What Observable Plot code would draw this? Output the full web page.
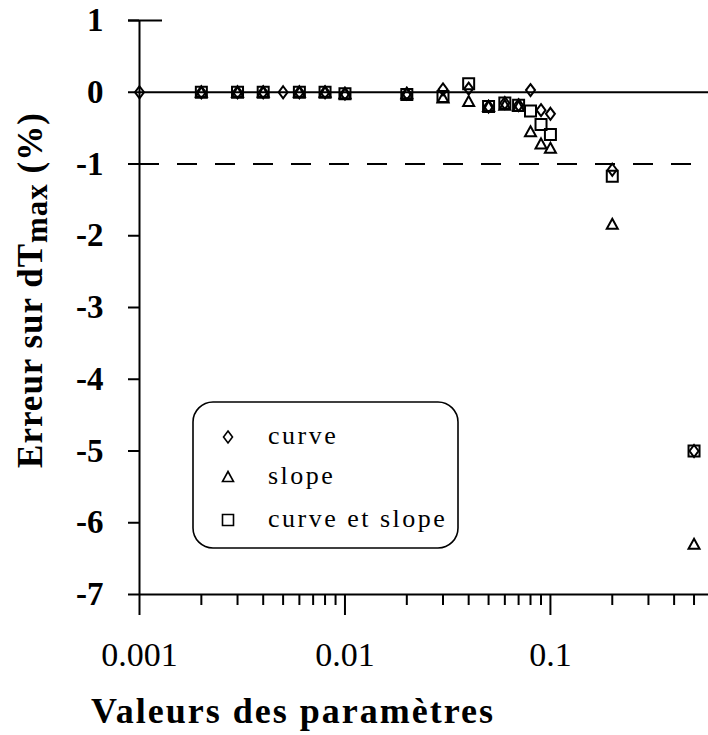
<!DOCTYPE html>
<html>
<head>
<meta charset="utf-8">
<script src="https://cdn.jsdelivr.net/npm/d3@7"></script>
<script src="https://cdn.jsdelivr.net/npm/@observablehq/plot@0.6"></script>
<style>
  html, body { margin: 0; padding: 0; background: #fff; }
  #chart svg { display: block; }
  #chart svg text { font-family: "Liberation Serif", "Times New Roman", "DejaVu Serif", serif !important; }
</style>
</head>
<body>
<div id="chart"></div>
<script>
// ---- data ----
const curveX = [0.001, 0.002, 0.003, 0.004, 0.005, 0.006, 0.008, 0.01, 0.02, 0.03, 0.04, 0.05, 0.06, 0.07, 0.08, 0.09, 0.1, 0.2, 0.5];
const curveY = [0, 0, 0, 0, 0, 0, 0, -0.02, -0.02, 0.04, 0.05, -0.2, -0.15, -0.18, 0.03, -0.25, -0.3, -1.08, -5.0];

const slopeX = [0.002, 0.003, 0.004, 0.006, 0.008, 0.01, 0.02, 0.03, 0.04, 0.05, 0.06, 0.07, 0.08, 0.09, 0.1, 0.2, 0.5];
const slopeY = [0, 0, 0, 0, 0, -0.02, -0.02, -0.08, -0.13, -0.2, -0.18, -0.2, -0.55, -0.72, -0.78, -1.84, -6.3];

const bothX = [0.002, 0.003, 0.004, 0.006, 0.008, 0.01, 0.02, 0.03, 0.04, 0.05, 0.06, 0.07, 0.08, 0.09, 0.1, 0.2, 0.5];
const bothY = [0, 0, 0, 0, 0, -0.02, -0.03, -0.06, 0.12, -0.2, -0.15, -0.18, -0.26, -0.45, -0.59, -1.17, -5.0];

const seriesNames = ["curve", "slope", "curve et slope"];
const xMajorTicks = [0.001, 0.01, 0.1];
const xMinorTicks = [0.002, 0.003, 0.004, 0.005, 0.006, 0.007, 0.008, 0.009,
                     0.02, 0.03, 0.04, 0.05, 0.06, 0.07, 0.08, 0.09,
                     0.2, 0.3, 0.4, 0.5];
const yTicks = [-7, -6, -5, -4, -3, -2, -1, 0, 1];
const xDomain = [0.001, 0.588];
const yDomain = [-7, 1];
const refZero = [0];
const refLimit = [-1];
const xTitle = "Valeurs des paramètres";

// ---- custom marker shapes ----
const diamondSym = { draw(c) { c.moveTo(0, -6); c.lineTo(4.5, 0); c.lineTo(0, 6); c.lineTo(-4.5, 0); c.closePath(); } };
const triangleSym = { draw(c) { c.moveTo(0, -5.5); c.lineTo(5.5, 4.5); c.lineTo(-5.5, 4.5); c.closePath(); } };
const squareSym = { draw(c) { c.rect(-5.5, -5.5, 11, 11); } };
const syms = [diamondSym, triangleSym, squareSym];

const curveData = curveX.map((x, i) => ({x, y: curveY[i]}));
const slopeData = slopeX.map((x, i) => ({x, y: slopeY[i]}));
const bothData = bothX.map((x, i) => ({x, y: bothY[i]}));

const plot = Plot.plot({
  width: 708,
  height: 735,
  marginLeft: 139,
  marginRight: 0,
  marginTop: 20,
  marginBottom: 141,
  style: { background: "#fff", color: "#000", overflow: "visible" },
  x: { type: "log", domain: xDomain, axis: null },
  y: { domain: yDomain, axis: null },
  marks: [
    // reference lines
    Plot.ruleY(refZero, { stroke: "#000", strokeWidth: 2 }),
    Plot.ruleY(refLimit, { stroke: "#000", strokeWidth: 2, strokeDasharray: "20,18" }),
    // axis lines
    Plot.ruleY([yDomain[0]], { stroke: "#000", strokeWidth: 2 }),
    Plot.ruleX([xDomain[0]], { stroke: "#000", strokeWidth: 2 }),
    Plot.ruleY([yDomain[1]], { x1: xDomain[0], x2: xDomain[0], insetLeft: -11, insetRight: -23, stroke: "#000", strokeWidth: 2 }),
    // x axis
    Plot.axisX({ ticks: xMinorTicks, tickSize: 11, tickFormat: () => "", strokeWidth: 2, label: null }),
    Plot.axisX({ ticks: xMajorTicks, tickSize: 21, tickPadding: 26, tickFormat: d => String(d), fontSize: 34, strokeWidth: 2, label: null }),
    // y axis
    Plot.axisY({ ticks: yTicks, tickSize: 11, tickPadding: 25, tickFormat: d => String(d), fontSize: 33, fontWeight: "bold", strokeWidth: 2, label: null }),
    // data
    Plot.dot(bothData, { x: "x", y: "y", symbol: squareSym, r: 5, stroke: "#000", strokeWidth: 2, fill: "none" }),
    Plot.dot(slopeData, { x: "x", y: "y", symbol: triangleSym, r: 5, stroke: "#000", strokeWidth: 2, fill: "none" }),
    Plot.dot(curveData, { x: "x", y: "y", symbol: diamondSym, r: 5, stroke: "#000", strokeWidth: 2, fill: "none" }),
    // x title
    Plot.text([xTitle], { frameAnchor: "bottom", text: d => d, dx: -131, dy: 128, fontSize: 36, fontWeight: "bold", lineAnchor: "bottom", textAnchor: "middle", fill: "#000" })
  ]
});

document.getElementById("chart").appendChild(plot);

const svg = d3.select(plot);
svg.selectAll('g[aria-label="text"] text').style("letter-spacing", "2px");

// y title with subscript
const yt = svg.append("text")
  .attr("transform", "translate(42,290) rotate(-90)")
  .attr("text-anchor", "middle")
  .attr("font-size", 35)
  .attr("font-weight", "bold")
  .style("letter-spacing", "1px")
  .attr("fill", "#000");
yt.append("tspan").text("Erreur sur dT");
yt.append("tspan").attr("dy", 5).attr("font-size", 31).text("max");
yt.append("tspan").attr("dy", -5).text(" (%)");

// legend box
const lg = svg.append("g").attr("aria-label", "legend");
lg.append("rect")
  .attr("x", 193).attr("y", 402).attr("width", 265).attr("height", 146)
  .attr("rx", 20).attr("ry", 20)
  .attr("fill", "#fff").attr("stroke", "#000").attr("stroke-width", 1.6);
const rows = [437, 477, 520];
seriesNames.forEach((name, i) => {
  const p = d3.path();
  syms[i].draw(p);
  lg.append("path")
    .attr("d", p.toString())
    .attr("transform", `translate(228,${rows[i]})`)
    .attr("fill", "none").attr("stroke", "#000").attr("stroke-width", 1.6);
  lg.append("text")
    .attr("x", 268).attr("y", rows[i] + 7)
    .attr("text-anchor", "start")
    .attr("font-size", 26)
    .style("letter-spacing", "2.5px")
    .attr("fill", "#000")
    .text(name);
});
</script>
</body>
</html>
